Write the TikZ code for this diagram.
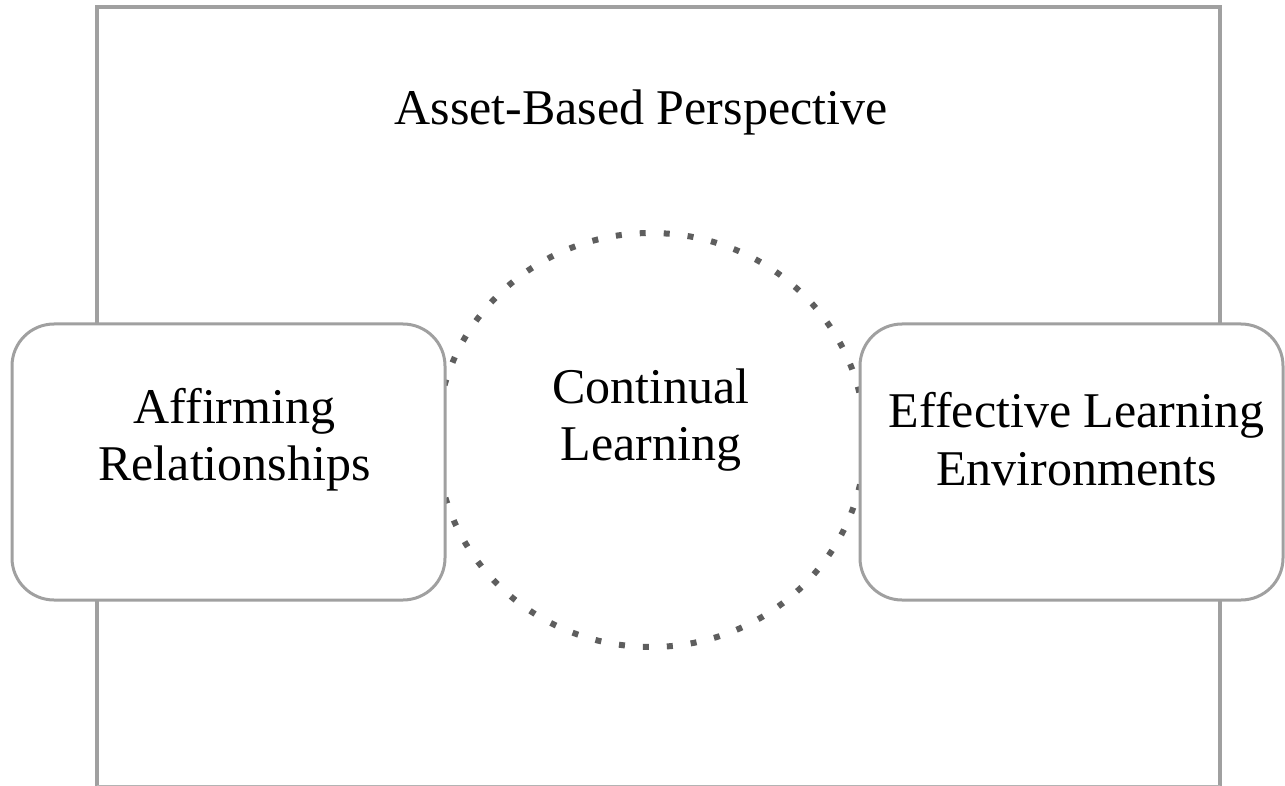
\documentclass[tikz,border=0pt]{standalone}
\usepackage{fontspec}
\setmainfont{Liberation Serif}
\usetikzlibrary{shapes.geometric}
\definecolor{framegray}{HTML}{A0A0A0}
\definecolor{dotgray}{HTML}{5E5E5E}
\begin{document}
\begin{tikzpicture}[x=1pt,y=-1pt,
    bigtext/.style={font=\fontsize{50}{57.5}\selectfont,align=center,inner sep=0pt},
    panel/.style={draw=framegray,line width=3pt,fill=white,rounded corners=42pt,
        minimum width=433pt,minimum height=276pt,inner sep=0pt},
    dotring/.style={draw=dotgray,line width=6pt,dash pattern=on 6pt off 18pt,
        ellipse,minimum width=428pt,minimum height=414pt,inner sep=0pt}]
\useasboundingbox (0,0) rectangle (1285,786);

% Outer frame (runs off the bottom edge)
\draw[framegray,line width=3.5pt] (97,785.5) -- (97,7) -- (1220,7) -- (1220,785.5);
\draw[framegray!80,line width=1.5pt] (97,785.5) -- (1220,785.5);
\node[bigtext,anchor=base] (assets) at (641,125) {Asset-Based Perspective};

% Dotted ring in the middle
\node[dotring] (ring) at (651,440) {};
\node[bigtext] (learning) at ([yshift=20pt]ring.center) {Continual\\Learning};

% Side panels sit on top of the ring and the frame
\node[panel] (affirm) at (228.5,462) {};
\node[bigtext] at ([xshift=6pt,yshift=22.5pt]affirm.center) {Affirming\\Relationships};

\node[panel,minimum width=423pt] (environ) at (1071.5,462) {};
\node[bigtext] at ([xshift=5pt,yshift=23pt]environ.center) {Effective Learning\\Environments};
\end{tikzpicture}
\end{document}
